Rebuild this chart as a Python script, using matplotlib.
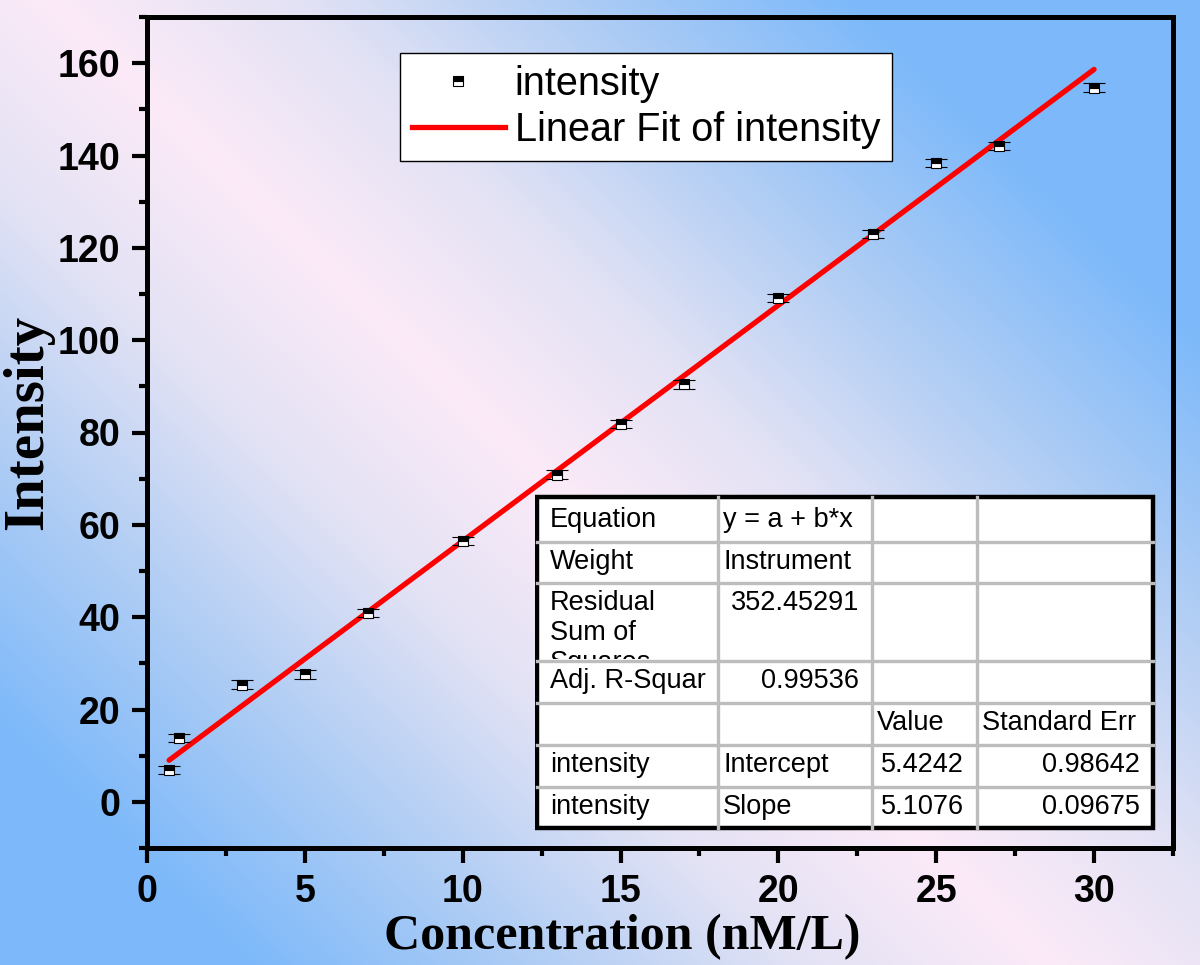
import numpy as np
import matplotlib
matplotlib.use("Agg")
import matplotlib.pyplot as plt
from matplotlib.lines import Line2D
from matplotlib.transforms import Bbox, TransformedBbox

# ---------------- data ----------------
conc = [0.7, 1, 3, 5, 7, 10, 13, 15, 17, 20, 23, 25, 27, 30]
intensity = [6.9, 13.9, 25.4, 27.6, 40.9, 56.5, 70.9, 81.9, 90.4, 109.1, 123.0, 138.4, 142.1, 154.7]
errs = [0.9, 0.9, 0.9, 0.9, 0.9, 0.9, 0.9, 0.9, 0.9, 0.9, 0.9, 0.9, 0.9, 0.9]
fit_intercept = 5.4242
fit_slope = 5.1076
x_ticks = [0, 5, 10, 15, 20, 25, 30]
y_ticks = [0, 20, 40, 60, 80, 100, 120, 140, 160]

table_rows = [
    ["Equation", "y = a + b*x", "", ""],
    ["Weight", "Instrument", "", ""],
    ["Residual\nSum of\nSquares", "352.45291", "", ""],
    ["Adj. R-Squar", "0.99536", "", ""],
    ["", "", "Value", "Standard Err"],
    ["intensity", "Intercept", "5.4242", "0.98642"],
    ["intensity", "Slope", "5.1076", "0.09675"],
]

W, H = 1200, 965
fig = plt.figure(figsize=(W / 100, H / 100), dpi=100)

# ---------------- background gradient ----------------
u = np.linspace(0, 1, W)[None, :]
v = np.linspace(0, 1, H)[:, None]
d = np.abs(1.2 * u - v - 0.05)
stops_d = [0.0, 0.25, 0.5, 0.8, 2.0]
stops_c = np.array([[252, 234, 248], [226, 226, 244], [178, 206, 244],
                    [125, 185, 250], [122, 184, 250]]) / 255.0
img = np.zeros((H, W, 3))
for k in range(3):
    img[..., k] = np.interp(d, stops_d, stops_c[:, k])
bg = fig.add_axes([0, 0, 1, 1], zorder=-10)
bg.imshow(img, aspect="auto", extent=[0, W, H, 0], interpolation="bilinear")
bg.set_axis_off()

# ---------------- main axes ----------------
L, R, T, B = 147, 1173, 17, 848
ax = fig.add_axes([L / W, 1 - B / H, (R - L) / W, (B - T) / H])
ax.set_facecolor("none")

x_arr = np.array(conc)
y_arr = np.array(intensity)
fit_x = np.array([x_arr.min(), x_arr.max()])
fit_y = fit_intercept + fit_slope * fit_x
ax.plot(fit_x, fit_y, color="#ff0000", lw=3.8, solid_capstyle="round", zorder=3)
ax.errorbar(x_arr, y_arr, yerr=errs, fmt="s", ms=7.5, mfc="black", mfcalt="white",
            fillstyle="top", mec="black", mew=0.8, ecolor="black", elinewidth=1.0,
            capsize=8, capthick=1.4, zorder=4)

ax.set_xlim(0, 32.5)
ax.set_ylim(-10, 170)
ax.set_xticks(x_ticks)
ax.set_xticks(np.arange(2.5, 33, 5), minor=True)
ax.set_yticks(y_ticks)
ax.set_yticks(np.arange(-10, 171, 20), minor=True)

for s in ax.spines.values():
    s.set_linewidth(3.6)
ax.tick_params(axis="both", which="major", direction="out", length=11, width=3.0, pad=8)
ax.tick_params(axis="both", which="minor", direction="out", length=5.5, width=3.0)
ax.tick_params(top=False, right=False)
for lab in ax.get_xticklabels() + ax.get_yticklabels():
    lab.set_fontfamily("Liberation Sans")
    lab.set_fontweight("bold")
    lab.set_fontsize(27)

ax.set_xlabel("Concentration (nM/L)", fontfamily="Liberation Serif", fontweight="bold", fontsize=36)
ax.set_ylabel("Intensity", fontfamily="Liberation Serif", fontweight="bold", fontsize=41)
ax.xaxis.set_label_coords((622 - L) / (R - L), -(937 - B) / (B - T))
ax.xaxis.label.set_va("center")
ax.yaxis.set_label_coords(-(L - 28) / (R - L), (B - 422) / (B - T))
ax.yaxis.label.set_va("center")

# ---------------- legend ----------------
h1 = Line2D([], [], ls="none", marker="s", ms=7, mfc="black", mfcalt="white", fillstyle="top",
            mec="black", mew=0.8)
h2 = Line2D([], [], color="#ff0000", lw=3.8)
leg = fig.legend([h1, h2], ["intensity", "Linear Fit of intensity"], loc="upper left",
                 bbox_to_anchor=(400 / W, 1 - 53 / H), borderaxespad=0,
                 prop={"family": "Liberation Sans", "size": 28.5}, frameon=True, fancybox=False,
                 edgecolor="black", framealpha=1, handlelength=2.35, handletextpad=0.25,
                 labelspacing=0.2, borderpad=0.3)
leg.get_frame().set_linewidth(1.0)

# ---------------- stats table ----------------
col_edges = [537, 718, 872, 977, 1153]
row_edges = [497, 542, 583, 661, 703, 745, 787, 828]
tx0, tx1, ty0, ty1 = 535, 1157, 493, 832
tab = fig.add_axes([tx0 / W, 1 - ty1 / H, (tx1 - tx0) / W, (ty1 - ty0) / H], zorder=5)
tab.set_xlim(tx0, tx1)
tab.set_ylim(ty1, ty0)
tab.set_axis_off()
tab.add_patch(plt.Rectangle((col_edges[0], row_edges[0]), col_edges[-1] - col_edges[0],
                            row_edges[-1] - row_edges[0], facecolor="white", edgecolor="none"))
for xe in col_edges[1:-1]:
    tab.plot([xe, xe], [row_edges[0], row_edges[-1]], color="#bdbdbd", lw=2.4)
for ye in row_edges[1:-1]:
    tab.plot([col_edges[0], col_edges[-1]], [ye, ye], color="#bdbdbd", lw=2.4)
tab.add_patch(plt.Rectangle((col_edges[0], row_edges[0]), col_edges[-1] - col_edges[0],
                            row_edges[-1] - row_edges[0], facecolor="none", edgecolor="black", lw=3.2))

def is_num(s):
    try:
        float(s)
        return True
    except ValueError:
        return False

for r, row in enumerate(table_rows):
    y_top = row_edges[r]
    off = 10 if r == 0 else 7
    for c, txt in enumerate(row):
        if not txt:
            continue
        x_l, x_r = col_edges[c], col_edges[c + 1]
        if is_num(txt):
            xp, ha = x_r - 13, "right"
        else:
            xp, ha = x_l + (13 if c == 0 else 5), "left"
        t = tab.text(xp, y_top + off, txt, ha=ha, va="top", fontfamily="Liberation Sans",
                     fontsize=19.5, color="black", linespacing=1.2)
        cb = TransformedBbox(Bbox([[x_l, row_edges[r]], [x_r, row_edges[r + 1] - 2]]), tab.transData)
        t.set_clip_box(cb)
        t.set_clip_on(True)

fig.savefig("out.png", dpi=100)
